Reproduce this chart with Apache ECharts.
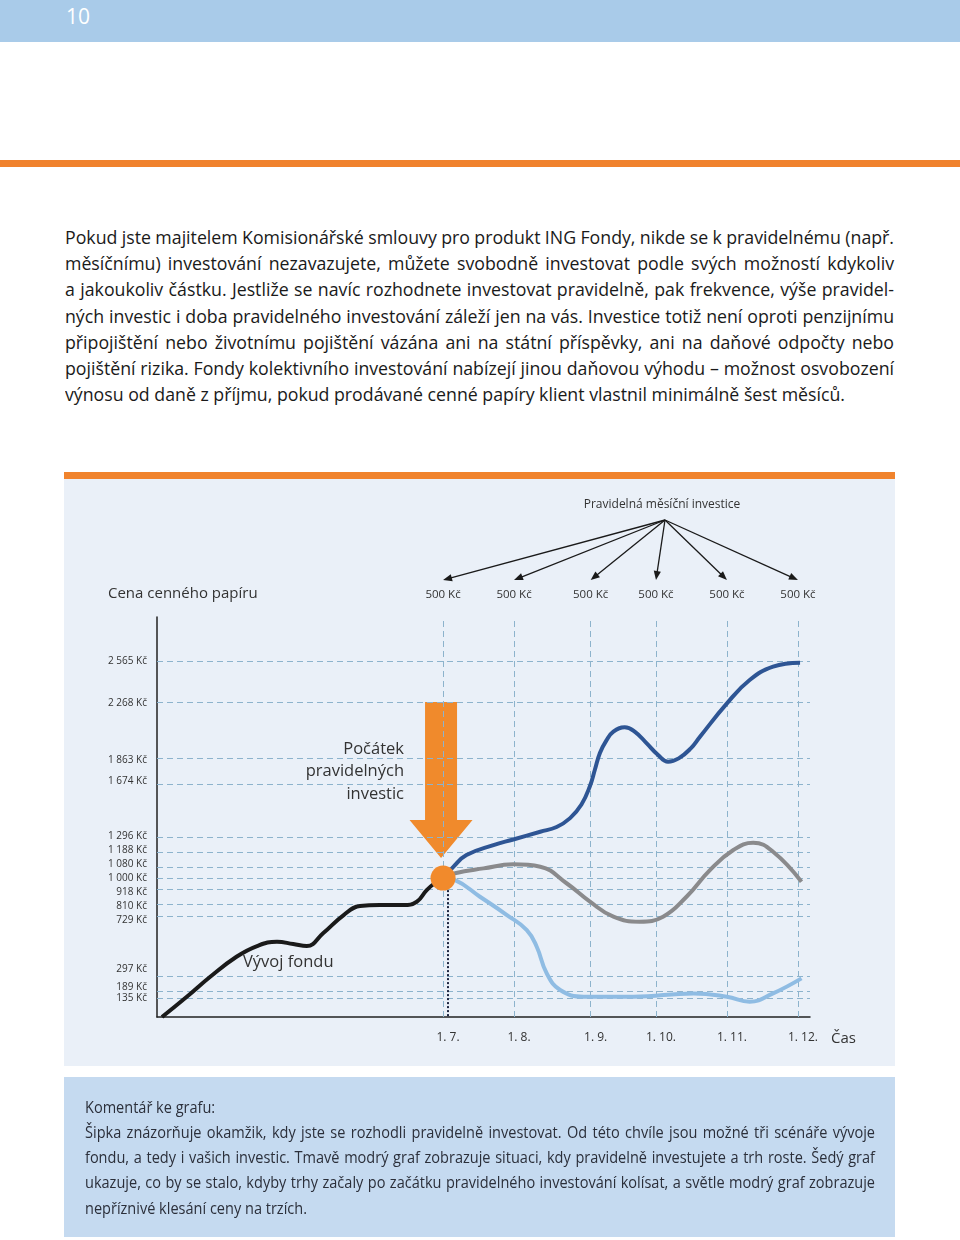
<!DOCTYPE html>
<html><head><meta charset="utf-8">
<script src="https://cdn.jsdelivr.net/npm/echarts@6/dist/echarts.min.js"></script>
<style>
html,body{margin:0;padding:0;}
body{width:960px;height:1240px;position:relative;background:#fff;overflow:hidden;font-family:'Open Sans','Noto Sans',sans-serif;}
.abs{position:absolute;}
.ln{position:absolute;left:0;white-space:nowrap;transform-origin:0 50%;}
</style></head><body>
<div class="abs" style="left:0;top:0;width:960px;height:42px;background:#A9CBE9"></div>
<div class="abs" style="left:66px;top:1px;font-size:21px;line-height:30px;color:#fff;font-family:'Liberation Sans Narrow','Open Sans',sans-serif">10</div>
<div class="abs" style="left:0;top:160px;width:960px;height:7px;background:#F0822D"></div>
<div id="para" class="abs" style="left:65px;top:0;width:829px;height:420px;color:#1a1a1a"></div>
<div class="abs" style="left:64px;top:472px;width:831px;height:7px;background:#F0832D"></div>
<div id="chart" class="abs" style="left:64px;top:479px;width:831px;height:587px"></div>
<div class="abs" style="left:64px;top:1077px;width:831px;height:160px;background:#C5DAF0"></div>
<div id="comment" class="abs" style="left:85px;top:0;width:790px;height:1240px;color:#2b2f3a;pointer-events:none"></div>
<script>
// ---------------- data ----------------
const tickValues = [135, 189, 297, 729, 810, 918, 1000, 1080, 1188, 1296, 1674, 1863, 2268, 2565];
const monthLabels = ['1. 7.', '1. 8.', '1. 9.', '1. 10.', '1. 11.', '1. 12.'];
const monthPos = [0, 1, 2.08, 3, 4, 5];
const investments = [500, 500, 500, 500, 500, 500];
const startPoint = [0, 1000];
const fundHistory = [[-3.96,0],[-3.61,146],[-3.28,290],[-2.91,434],[-2.62,511],[-2.34,542],[-2.11,525],[-1.92,511],[-1.69,603],[-1.40,734],[-1.17,799],[-0.89,806],[-0.56,806],[-0.37,830],[-0.23,914],[-0.09,974],[0,1000]];
const rising = [[0,1000],[0.145,1081],[0.33,1166],[0.71,1238],[0.99,1278],[1.37,1334],[1.60,1368],[1.79,1432],[1.95,1530],[2.07,1663],[2.14,1782],[2.21,1901],[2.30,1990],[2.40,2055],[2.56,2086],[2.70,2055],[2.87,1970],[3.03,1886],[3.17,1838],[3.32,1862],[3.49,1934],[3.62,2018],[4.0,2258],[4.32,2426],[4.65,2522],[5.03,2551]];
const fluctuating = [[0,1000],[0.17,1035],[0.57,1070],[0.99,1099],[1.37,1082],[1.74,963],[2.07,830],[2.40,722],[2.77,686],[3.10,722],[3.43,866],[3.76,1058],[4.09,1202],[4.37,1255],[4.65,1190],[5.05,974]];
const falling = [[0,1000],[0.17,985],[0.52,866],[0.90,734],[1.18,626],[1.32,506],[1.46,315],[1.65,194],[1.98,146],[2.68,146],[3.53,170],[4.0,146],[4.32,110],[4.65,170],[5.05,278]];
// vertical nudges (px, + = down) of the price labels, as typeset in the reference
const yLabelNudge = [0, -4, -7, 4, 1.5, 2.5, 0, -3, -2, -1, -3.5, 2, 1, 0];

const paraLines = [
 'Pokud jste majitelem Komisionářské smlouvy pro produkt ING Fondy, nikde se k pravidelnému (např.',
 'měsíčnímu) investování nezavazujete, můžete svobodně investovat podle svých možností kdykoliv',
 'a jakoukoliv částku. Jestliže se navíc rozhodnete investovat pravidelně, pak frekvence, výše pravidel-',
 'ných investic i doba pravidelného investování záleží jen na vás. Investice totiž není oproti penzijnímu',
 'připojištění nebo životnímu pojištění vázána ani na státní příspěvky, ani na daňové odpočty nebo',
 'pojištění rizika. Fondy kolektivního investování nabízejí jinou daňovou výhodu – možnost osvobození',
 'výnosu od daně z příjmu, pokud prodávané cenné papíry klient vlastnil minimálně šest měsíců.'
];
const commentLines = [
 'Komentář ke grafu:',
 'Šipka znázorňuje okamžik, kdy jste se rozhodli pravidelně investovat. Od této chvíle jsou možné tři scénáře vývoje',
 'fondu, a tedy i vašich investic. Tmavě modrý graf zobrazuje situaci, kdy pravidelně investujete a trh roste. Šedý graf',
 'ukazuje, co by se stalo, kdyby trhy začaly po začátku pravidelného investování kolísat, a světle modrý graf zobrazuje',
 'nepříznivé klesání ceny na trzích.'
];

// ---------------- text layout ----------------
const mctx = document.createElement('canvas').getContext('2d');
function measure(t, size, fam){ mctx.font = size + 'px ' + fam; return mctx.measureText(t).width; }
function spaces(t){ return (t.match(/ /g) || []).length; }

function layoutLines(elId, lines, o){
  const el = document.getElementById(elId);
  const sx = o.fitWidth / measure(lines[o.fitIndex], o.size, o.fam);
  lines.forEach((t, i) => {
    const d = document.createElement('div');
    d.className = 'ln';
    d.textContent = t;
    const cy = o.y0 + i * o.step;
    d.style.cssText += `top:${cy - o.lh/2}px;height:${o.lh}px;line-height:${o.lh}px;font-family:${o.fam};font-size:${o.size}px;transform:scaleX(${sx});`;
    if (o.justify(i)) {
      const nat = measure(t, o.size, o.fam);
      d.style.wordSpacing = ((o.width / sx - nat) / spaces(t)) + 'px';
    }
    el.appendChild(d);
  });
}
layoutLines('para', paraLines, { fam: "'Open Sans', 'Noto Sans', sans-serif", size: 18, fitIndex: 6, fitWidth: 780,
  width: 829, lh: 26, y0: 237, step: 26.17, justify: i => i < paraLines.length - 1 });
layoutLines('comment', commentLines, { fam: "'Liberation Sans Narrow', 'Open Sans', sans-serif", size: 15.5, fitIndex: 4, fitWidth: 222,
  width: 790, lh: 25, y0: 1107, step: 25.25, justify: i => i > 0 && i < commentLines.length - 1 });

// ---------------- chart ----------------
const fmt = v => String(v).replace(/\B(?=(\d{3})+(?!\d))/g, ' ');
const monthLabelOf = v => { const i = monthPos.findIndex(m => Math.abs(m - v) < 1e-6); return i >= 0 ? monthLabels[i] : ''; };
const yRich = {};
yLabelNudge.forEach((d, i) => {
  yRich['n' + i] = { fontSize: 10, color: '#333', fontFamily: "'Open Sans', sans-serif",
    padding: d >= 0 ? [2 * d, 0, 0, 0] : [0, 0, -2 * d, 0] };
});
const yLabelOf = v => { const i = tickValues.findIndex(t => Math.abs(t - v) < 1e-6); return i >= 0 ? `{n${i}|${fmt(v)} Kč}` : ''; };

const chart = echarts.init(document.getElementById('chart'));
const curveBase = { type: 'line', showSymbol: false, smooth: 0.45, silent: true, animation: false, zlevel: 1 };
chart.setOption({
  animation: false,
  backgroundColor: '#EAF0F8',
  grid: { left: 93, right: 85, top: 138, bottom: 49 },
  xAxis: {
    type: 'value', min: -4.03, max: 5.17,
    axisLine: { show: true, onZero: false, lineStyle: { color: '#222', width: 1.5 } },
    axisTick: { show: false }, splitLine: { show: false },
    axisLabel: { customValues: monthPos, formatter: monthLabelOf, color: '#333', fontSize: 12, margin: 15,
      padding: [0, 0, 0, 10], fontFamily: "'Open Sans', sans-serif", showMinLabel: true, showMaxLabel: true, hideOverlap: false }
  },
  yAxis: {
    type: 'value', min: 0, max: 2880,
    axisLine: { show: true, onZero: false, lineStyle: { color: '#222', width: 1.5 } },
    axisTick: { show: false }, splitLine: { show: false },
    axisLabel: { customValues: tickValues, formatter: yLabelOf, rich: yRich, color: '#333', fontSize: 10, margin: 10,
      fontFamily: "'Open Sans', sans-serif", showMinLabel: true, showMaxLabel: true, hideOverlap: false }
  },
  series: [
    { type: 'line', data: [], z: 1, zlevel: 1, silent: true,
      markLine: { silent: true, symbol: 'none', animation: false, label: { show: false },
        lineStyle: { type: [6, 4], color: '#8DB3CC', width: 1 },
        data: [...tickValues.map(v => ({ yAxis: v })), ...monthPos.map(m => ({ xAxis: m }))] } },
    Object.assign({}, curveBase, { name: 'falling', data: falling, z: 3, lineStyle: { color: '#8FBCE3', width: 4 } }),
    Object.assign({}, curveBase, { name: 'fluctuating', data: fluctuating, z: 3, lineStyle: { color: '#8A8A8C', width: 4 } }),
    Object.assign({}, curveBase, { name: 'rising', data: rising, z: 4, lineStyle: { color: '#2E5594', width: 4 } }),
    Object.assign({}, curveBase, { name: 'fund', data: fundHistory, z: 4, lineStyle: { color: '#1a1a1a', width: 4 },
      markLine: { silent: true, symbol: 'none', animation: false, label: { show: false },
        lineStyle: { type: [2, 2], color: '#1d2540', width: 2 },
        data: [[{ coord: [startPoint[0] + 0.06, startPoint[1]] }, { coord: [startPoint[0] + 0.06, 0] }]] } }),
    { type: 'scatter', data: [startPoint], z: 6, zlevel: 1, silent: true, symbolSize: 25, itemStyle: { color: '#F18A2C', opacity: 1 } }
  ]
});

function buildGraphic(){
  const px = (x, y) => chart.convertToPixel({ gridIndex: 0 }, [x, y]);
  const els = [];
  const orange = '#F08A2C';
  const font = (s, fam) => ({ fontSize: s, fontFamily: fam || "'Open Sans', sans-serif" });
  const narrow = "'Liberation Sans Narrow', 'Open Sans', sans-serif";
  // big arrow (below the dashed guides)
  const c = px(startPoint[0], startPoint[1]);
  const top = px(0, tickValues[12])[1];
  const cx = c[0] - 2, tip = c[1] - 20, hb = tip - 38;
  els.push({ type: 'polygon', z: 0, zlevel: 0, silent: true,
    shape: { points: [[cx - 16, top], [cx + 16, top], [cx + 16, hb], [cx + 31.5, hb], [cx, tip], [cx - 31.5, hb], [cx - 16, hb]] },
    style: { fill: orange } });
  // fan of monthly investments
  const ox = 601, oy = 41, ty = 101;
  els.push({ type: 'text', x: 598, y: 26, silent: true,
    style: Object.assign({ text: 'Pravidelná měsíční investice', fill: '#333', align: 'center', verticalAlign: 'middle' }, font(12, narrow)) });
  monthPos.forEach((m, i) => {
    const tx = px(m, 0)[0];
    const dx = tx - ox, dy = ty - oy, L = Math.hypot(dx, dy);
    const ux = dx / L, uy = dy / L, nx = -uy, ny = ux;
    const hl = 9, hw = 3.6;
    els.push({ type: 'line', silent: true, shape: { x1: ox, y1: oy, x2: tx - ux * hl * 0.8, y2: ty - uy * hl * 0.8 },
      style: { stroke: '#1a1a1a', lineWidth: 1.3 } });
    els.push({ type: 'polygon', silent: true,
      shape: { points: [[tx, ty], [tx - ux * hl + nx * hw, ty - uy * hl + ny * hw], [tx - ux * hl - nx * hw, ty - uy * hl - ny * hw]] },
      style: { fill: '#1a1a1a' } });
    els.push({ type: 'text', x: tx, y: 116, silent: true,
      style: Object.assign({ text: investments[i] + ' Kč', fill: '#333', align: 'center', verticalAlign: 'middle' }, font(11.5, narrow)) });
  });
  // titles & annotations
  els.push({ type: 'text', x: 44, y: 115, silent: true,
    style: Object.assign({ text: 'Cena cenného papíru', fill: '#333', align: 'left', verticalAlign: 'middle' }, font(15)) });
  ['Počátek', 'pravidelných', 'investic'].forEach((t, i) => {
    els.push({ type: 'text', x: 340, y: 270 + i * 22.5, silent: true,
      style: Object.assign({ text: t, fill: '#333', align: 'right', verticalAlign: 'middle' }, font(16.5)) });
  });
  els.push({ type: 'text', x: 179, y: 483, silent: true,
    style: Object.assign({ text: 'Vývoj fondu', fill: '#333', align: 'left', verticalAlign: 'middle' }, font(16.5)) });
  els.push({ type: 'text', x: 767, y: 560, silent: true,
    style: Object.assign({ text: 'Čas', fill: '#333', align: 'left', verticalAlign: 'middle' }, font(15)) });
  chart.setOption({ graphic: { elements: els } });
}
buildGraphic();
</script>
</body></html>
